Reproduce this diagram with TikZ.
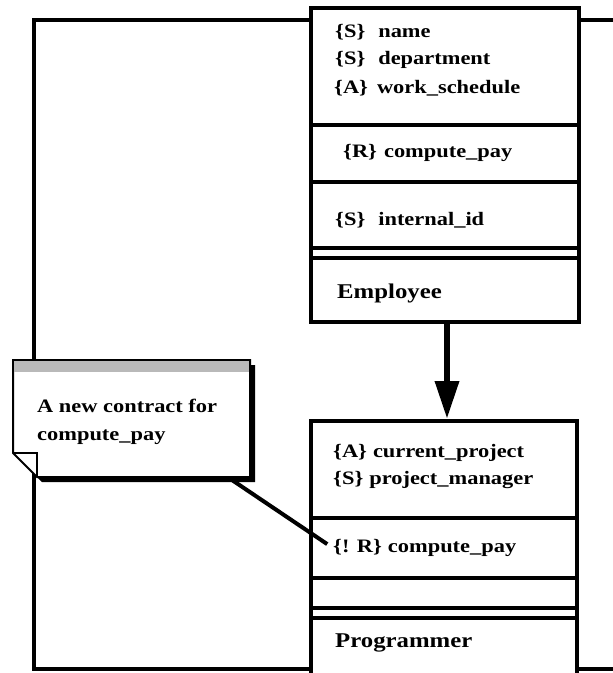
\documentclass[tikz,border=0pt]{standalone}
\usepackage{fontspec}
\setmainfont{Liberation Serif}[FakeStretch=1.18]
\usetikzlibrary{arrows.meta}

\tikzset{
  frameline/.style={line width=4.5pt},
  classbox/.style={draw, line width=4pt, fill=white, inner sep=0pt, anchor=north west},
  sepline/.style={line width=3.5pt},
  attr/.style={anchor=west, inner sep=0pt, font=\fontsize{19}{20}\selectfont\bfseries},
  cname/.style={anchor=west, inner sep=0pt, font=\fontsize{21}{22}\selectfont\bfseries},
  notetext/.style={anchor=west, inner sep=0pt, font=\fontsize{19}{20}\selectfont\bfseries},
}

\begin{document}
\begin{tikzpicture}[x=1pt, y=-1pt, line join=miter]
\useasboundingbox (0,0) rectangle (613,673);
\clip (0,0) rectangle (613,673);

% class boxes
\node[classbox, minimum width=268pt, minimum height=314pt] (emp) at (309,6) {};
\node[classbox, minimum width=266pt, minimum height=290pt] (prog) at (309,419) {};

% surrounding frame
\draw[frameline] (emp.west |- 0,20) -- (34,20) -- (34,669) -- (prog.west |- 0,669);
\draw[frameline] (emp.east |- 0,20) -- (620,20);
\draw[frameline] (prog.east |- 0,669) -- (620,669);

% Employee compartments
\draw[sepline] (309,125) -- (577,125);
\draw[sepline] (309,182) -- (577,182);
\draw[sepline] (309,248) -- (577,248);
\draw[sepline] (309,258) -- (577,258);

\node[attr] (ename) at (335,32) {\{S\}\hspace{13pt}name};
\node[attr] (edept) at (335,60) {\{S\}\hspace{13pt}department};
\node[attr] (ework) at (334,88) {\{A\}\hspace{9pt}work\_schedule};
\node[attr] (ecomp) at (343,153) {\{R\}\hspace{7pt}compute\_pay};
\node[attr] (eid) at (335,220) {\{S\}\hspace{13pt}internal\_id};
\node[cname] (etitle) at (337,293) {Employee};

% Programmer compartments
\draw[sepline] (309,518) -- (575,518);
\draw[sepline] (309,578) -- (575,578);
\draw[sepline] (309,608) -- (575,608);
\draw[sepline] (309,618) -- (575,618);

\node[attr] (pcur) at (333,453) {\{A\}\hspace{6pt}current\_project};
\node[attr] (pman) at (333,480) {\{S\}\hspace{6pt}project\_manager};
\node[attr] (pcomp) at (333,548) {\{! R\}\hspace{6pt}compute\_pay};
\node[cname] (ptitle) at (335,643) {Programmer};

% inheritance arrow
\coordinate (ax) at (447,0);
\draw[line width=6.5pt, -{Triangle[width=23pt, length=38pt]}] (emp.south -| ax) -- (prog.north -| ax);

% note with drop shadow and folded corner
\fill (18,365) -- (255,365) -- (255,482) -- (42,482) -- (18,458) -- cycle;
\draw[line width=2pt, fill=white] (13,360) -- (250,360) -- (250,477) -- (37,477) -- (13,453) -- cycle;
\fill[gray!55] (14,361) rectangle (249,372);
\draw[line width=2pt] (13,453) -- (37,453) -- (37,477);
\node[notetext] (nl1) at (37,406) {A new contract for};
\node[notetext] (nl2) at (37,437) {compute\_pay};

% note connector
\coordinate (notetip) at (232,480);
\draw[line width=4pt, shorten >=7pt] (notetip) -- (pcomp.west);
\end{tikzpicture}
\end{document}
